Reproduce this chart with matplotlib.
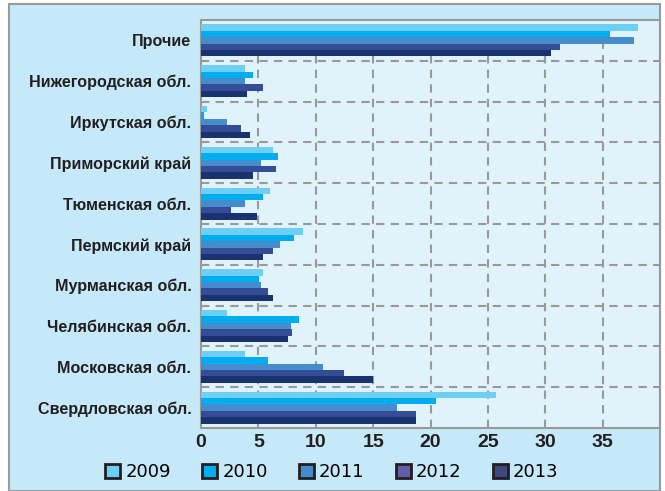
import matplotlib
matplotlib.use("Agg")
import matplotlib.pyplot as plt
import numpy as np
from matplotlib.patches import Rectangle, Patch

categories = ["Прочие", "Нижегородская обл.", "Иркутская обл.", "Приморский край",
              "Тюменская обл.", "Пермский край", "Мурманская обл.", "Челябинская обл.",
              "Московская обл.", "Свердловская обл."]
years = ["2009", "2010", "2011", "2012", "2013"]
v2009 = [38.1, 3.85, 0.5, 6.3, 6.0, 8.9, 5.4, 2.3, 3.85, 25.7]
v2010 = [35.6, 4.55, 0.25, 6.75, 5.4, 8.1, 5.05, 8.55, 5.8, 20.45]
v2011 = [37.7, 3.85, 2.3, 5.25, 3.85, 6.9, 5.25, 7.8, 10.6, 17.05]
v2012 = [31.3, 5.4, 3.5, 6.55, 2.6, 6.3, 5.8, 7.95, 12.5, 18.7]
v2013 = [30.5, 4.0, 4.3, 4.55, 4.9, 5.4, 6.3, 7.6, 15.0, 18.7]
series = [v2009, v2010, v2011, v2012, v2013]
bar_colors = ["#6dcff6", "#00aeef", "#448ccb", "#344d96", "#1b3270"]
legend_colors = ["#6dcff6", "#00aeef", "#448ccb", "#605ca8", "#3d4a80"]
xticks = [0, 5, 10, 15, 20, 25, 30, 35]

W, H = 665, 491
fig = plt.figure(figsize=(W / 100, H / 100), dpi=100)
fig.patch.set_facecolor("white")
bg = Rectangle((9 / W, 0), (660 - 9) / W, (H - 4) / H, transform=fig.transFigure,
               facecolor="#c6e9f9", edgecolor="#9a9a9a", linewidth=1.5, zorder=-10)
fig.patches.append(bg)

ax = fig.add_axes([201 / W, (H - 428) / H, (660 - 201) / W, (428 - 20) / H])
ax.set_facecolor("#e0f3fb")

n = len(categories)
y = np.arange(n)
bh = 0.157
for i, (vals, c) in enumerate(zip(series, bar_colors)):
    ax.barh(y + (i - 2) * bh, vals, height=bh, color=c, zorder=3)

ax.set_xlim(0, 40)
ax.set_ylim(n - 0.5, -0.5)
ax.set_xticks(xticks)
ax.set_yticks(y)
ax.set_yticks(np.arange(n - 1) + 0.5, minor=True)

lab_font = dict(family=["Liberation Sans", "DejaVu Sans"], weight="bold")
ax.set_yticklabels(categories, fontsize=11.6, color="#231f20", **lab_font)
ax.set_xticklabels([str(t) for t in xticks], fontsize=14, color="#231f20", **lab_font)
ax.tick_params(axis="y", which="major", length=0, pad=7)
ax.tick_params(axis="y", which="minor", length=4, direction="in", color="#999999", width=1.2)
ax.tick_params(axis="x", which="major", length=4, direction="in", color="#999999", width=1.2, pad=4)

for s in ax.spines.values():
    s.set_color("#999999")
    s.set_linewidth(1.5)

for t in xticks[1:]:
    ax.axvline(t, color="#999999", linestyle=(0, (4, 3)), linewidth=1.5, zorder=1)
for b in np.arange(n - 1) + 0.5:
    ax.axhline(b, color="#999999", linestyle=(0, (4, 3)), linewidth=1.5, zorder=1)

handles = [Patch(facecolor=c, edgecolor="#231f20", linewidth=2) for c in legend_colors]
fig.legend(handles, years, loc="center", bbox_to_anchor=(332 / W, (H - 472) / H), ncol=5,
           frameon=False, handlelength=0.8, handleheight=0.8, handletextpad=0.3,
           columnspacing=1.75, prop=dict(family="DejaVu Sans", size=13))

fig.savefig("out.png", dpi=100)
